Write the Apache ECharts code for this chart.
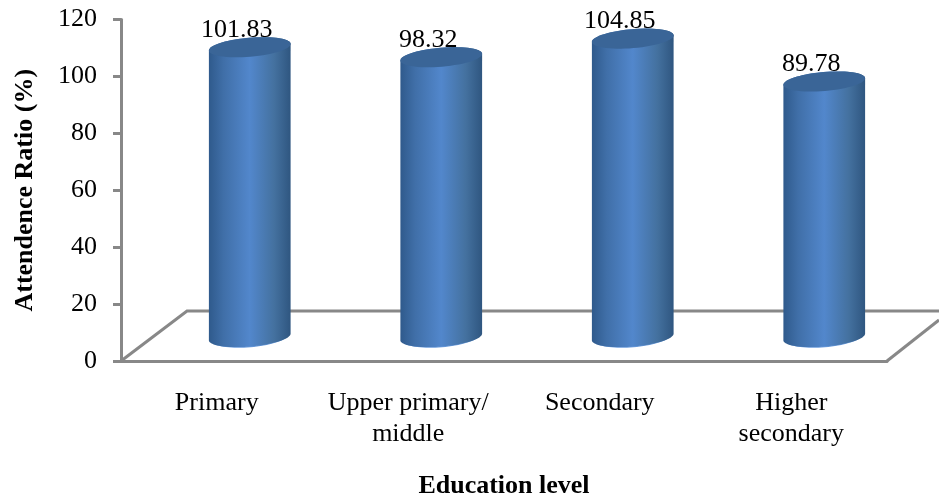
<!DOCTYPE html>
<html>
<head>
<meta charset="utf-8">
<style>html,body{margin:0;padding:0;background:#fff}#c{width:939px;height:493px}</style>
<script src="https://cdn.jsdelivr.net/npm/echarts@6/dist/echarts.min.js"></script>
</head>
<body>
<div id="c"></div>
<script>
var categories = ['Primary', 'Upper primary/\nmiddle', 'Secondary', 'Higher\nsecondary'];
var attendance = [101.83, 98.32, 104.85, 89.78];
var yTicks = [0, 20, 40, 60, 80, 100, 120];
var xTitle = 'Education level';
var yTitle = 'Attendence Ratio (%)';

var FONT = '"Liberation Serif","Times New Roman",serif';
var GREY = '#888888';
var chart = echarts.init(document.getElementById('c'), null, {renderer: 'canvas'});

function ellipsePts(cx, cy, a, b, tilt, from, to, n) {
  var pts = [], c = Math.cos(tilt), s = Math.sin(tilt);
  for (var i = 0; i <= n; i++) {
    var t = from + (to - from) * i / n;
    var ex = a * Math.cos(t), ey = b * Math.sin(t);
    pts.push([cx + ex * c - ey * s, cy + ex * s + ey * c]);
  }
  return pts;
}

function renderBar(params, api) {
  var idx = api.value(0), val = api.value(1);
  var top = api.coord([idx, val]);
  var base = api.coord([idx, 0]);
  var cx = top[0] + 33, a = 41, b = 9.5, tilt = -0.085;
  var topY = top[1] - 24, botY = base[1] - 24;
  var body = ellipsePts(cx, botY, a, b, tilt, 0, Math.PI, 40)
    .concat(ellipsePts(cx, topY, a, b, tilt, Math.PI, 2 * Math.PI, 40));
  var grad = new echarts.graphic.LinearGradient(0, 0, 1, 0, [
    {offset: 0, color: '#2f5a8c'},
    {offset: 0.18, color: '#406fa8'},
    {offset: 0.5, color: '#5287cc'},
    {offset: 0.8, color: '#44719f'},
    {offset: 1, color: '#2f5680'}
  ]);
  var rim = ellipsePts(cx, botY, a - 3, b, tilt, 0.25, Math.PI - 0.25, 30);
  return {
    type: 'group',
    children: [
      {type: 'polyline', shape: {points: rim}, style: {stroke: '#6a9bdc', lineWidth: 1.5, fill: null}},
      {type: 'polygon', shape: {points: body}, style: {fill: grad}},
      {type: 'polygon', shape: {points: ellipsePts(cx, topY, a, b, tilt, 0, Math.PI * 2, 60)}, style: {fill: '#3a6597'}},
      {type: 'text', z2: 10, style: {
        x: top[0] + 20, y: top[1] - 41, text: api.value(2),
        fill: '#000', font: '26px ' + FONT, align: 'center', verticalAlign: 'middle'
      }}
    ]
  };
}

function renderFloor(params, api) {
  var rect = params.coordSys;
  var floorY = rect.y + rect.height;
  var lo = [rect.x, floorY];
  var hi = [rect.x + rect.width, floorY];
  var depthX = 66, depthY = 50;
  var style = {stroke: GREY, lineWidth: 3, fill: null};
  return {
    type: 'group',
    silent: true,
    children: [{
      type: 'polyline',
      shape: {points: [lo, [lo[0] + depthX, lo[1] - depthY], [939, lo[1] - depthY]]},
      style: style
    }, {
      type: 'polyline',
      shape: {points: [hi, [hi[0] + 52, hi[1] - 41]]},
      style: style
    }]
  };
}

chart.setOption({
  animation: false,
  backgroundColor: '#fff',
  grid: {left: 121, right: 52, top: 19.5, bottom: 132, containLabel: false, outerBoundsMode: 'none'},
  xAxis: {
    type: 'category',
    data: categories,
    name: xTitle,
    nameLocation: 'middle',
    nameGap: 112,
    nameTextStyle: {fontFamily: FONT, fontSize: 26, fontWeight: 'bold', color: '#000'},
    axisLine: {lineStyle: {color: GREY, width: 3}},
    axisTick: {show: false},
    axisLabel: {margin: 27, color: '#000', fontFamily: FONT, fontSize: 26, lineHeight: 31, interval: 0}
  },
  yAxis: {
    type: 'value',
    min: 0,
    max: 120,
    interval: 20,
    name: yTitle,
    nameLocation: 'middle',
    nameGap: 83,
    nameTextStyle: {fontFamily: FONT, fontSize: 26, fontWeight: 'bold', color: '#000'},
    axisLine: {show: true, lineStyle: {color: GREY, width: 3}},
    axisTick: {show: true, length: 8, lineStyle: {color: GREY, width: 3}},
    axisLabel: {margin: 24, color: '#000', fontFamily: FONT, fontSize: 26},
    splitLine: {show: false}
  },
  series: [{
    type: 'custom',
    z: 1,
    clip: false,
    coordinateSystem: 'cartesian2d',
    renderItem: renderFloor,
    data: [[0, 0]],
    encode: {x: 0, y: 1}
  }, {
    type: 'custom',
    z: 2,
    clip: false,
    coordinateSystem: 'cartesian2d',
    renderItem: renderBar,
    data: attendance.map(function (v, i) { return [i, v, v.toFixed(2)]; }),
    encode: {x: 0, y: 1}
  }]
});
</script>
</body>
</html>
